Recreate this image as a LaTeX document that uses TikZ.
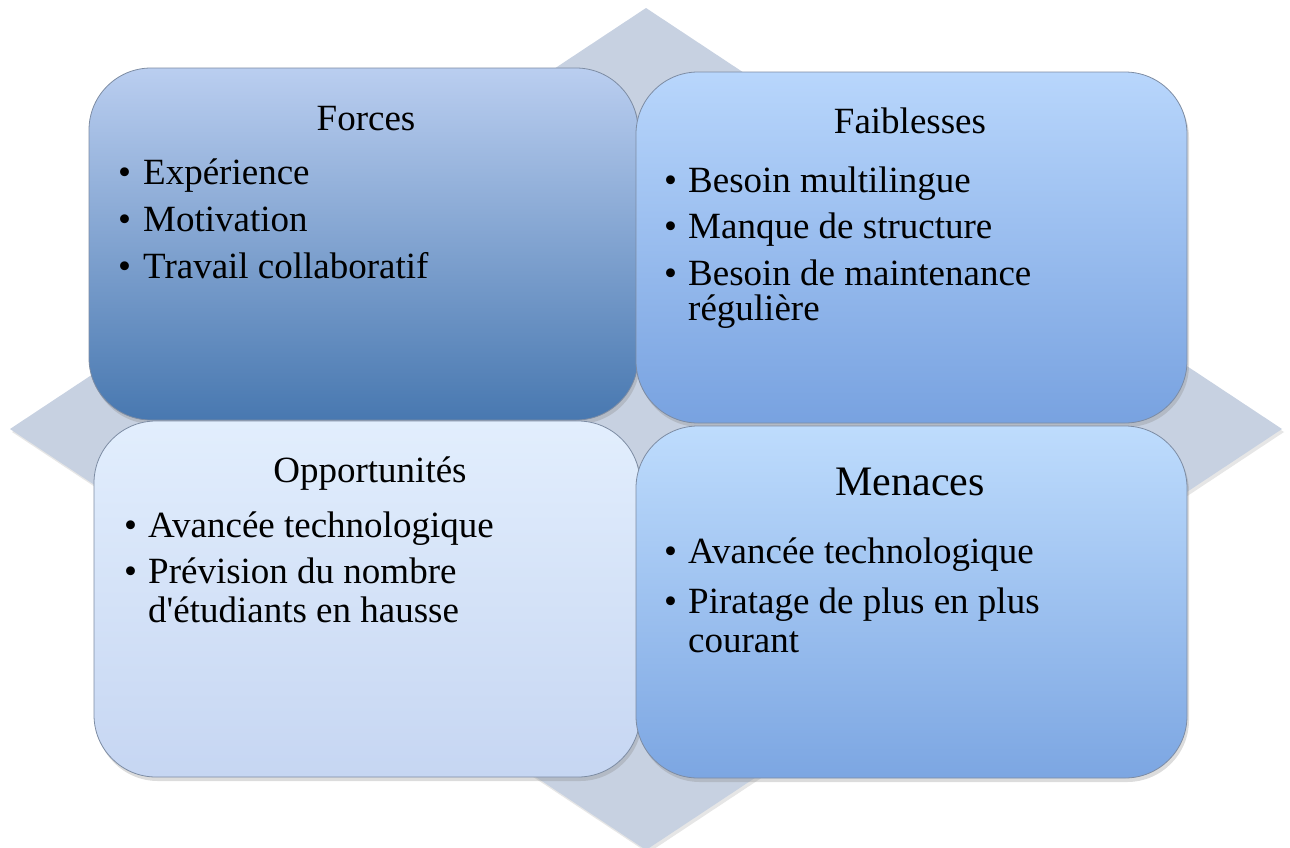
\documentclass[tikz,border=0pt]{standalone}
\usepackage{fontspec}
\setmainfont{Liberation Serif}
\usetikzlibrary{shadows}
\definecolor{diamondfill}{HTML}{C7D1E1}
\definecolor{edgegray}{HTML}{7D8CA3}
\definecolor{forcesTop}{HTML}{BACEF0}
\definecolor{forcesBot}{HTML}{4878B0}
\definecolor{faibTop}{HTML}{B8D6FC}
\definecolor{faibBot}{HTML}{78A2E0}
\definecolor{oppTop}{HTML}{E2EEFD}
\definecolor{oppBot}{HTML}{C6D6F2}
\definecolor{menTop}{HTML}{BEDCFD}
\definecolor{menBot}{HTML}{7CA6E2}
\begin{document}
\begin{tikzpicture}[x=1pt,y=-1pt,
  quad/.style={rectangle, rounded corners=62pt, draw=edgegray, line width=0.8pt, inner sep=0pt,
    drop shadow={opacity=0.28, shadow xshift=2pt, shadow yshift=-4pt}},
  head/.style={anchor=base, inner sep=0pt, font=\fontsize{37}{44}\selectfont},
  bighead/.style={anchor=base, inner sep=0pt, font=\fontsize{42}{50}\selectfont},
  dot/.style={anchor=base west, inner sep=0pt, font=\fontsize{37}{44}\selectfont},
  entry/.style={anchor=base west, inner sep=0pt, font=\fontsize{37}{44}\selectfont}]

% canvas
\useasboundingbox (0,0) rectangle (1290,847);

% background diamond
\fill[diamondfill, drop shadow={opacity=0.2, shadow xshift=2pt, shadow yshift=-3pt}]
  (646,8) -- (1282,429) -- (646,850) -- (10,429) -- cycle;

% the four quadrants
\node[quad, top color=forcesTop, bottom color=forcesBot,
  minimum width=549pt, minimum height=352pt] (forces) at (363.5,244) {};
\node[quad, top color=faibTop, bottom color=faibBot,
  minimum width=551pt, minimum height=351pt] (faiblesses) at (911.5,247.5) {};
\node[quad, top color=oppTop, bottom color=oppBot,
  minimum width=546pt, minimum height=356pt] (opportunites) at (367,599) {};
\node[quad, top color=menTop, bottom color=menBot,
  minimum width=551pt, minimum height=352pt] (menaces) at (911.5,602) {};

% Forces
\node[head] (forcesT) at (366,130) {Forces};
\node[dot] (fb1) at (118,184) {\textbullet};
\node[entry] (f1) at (143,184) {Expérience};
\node[dot] (fb2) at (118,231) {\textbullet};
\node[entry] (f2) at (143,231) {Motivation};
\node[dot] (fb3) at (118,278) {\textbullet};
\node[entry] (f3) at (143,278) {Travail collaboratif};

% Faiblesses
\node[head] (faibT) at (910,133) {Faiblesses};
\node[dot] (wb1) at (664,192) {\textbullet};
\node[entry] (w1) at (688,192) {Besoin multilingue};
\node[dot] (wb2) at (664,238) {\textbullet};
\node[entry] (w2) at (688,238) {Manque de structure};
\node[dot] (wb3) at (664,285) {\textbullet};
\node[entry] (w3) at (688,285) {Besoin de maintenance};
\node[entry] (w3b) at (688,320) {régulière};

% Opportunités
\node[head] (oppT) at (370,482) {Opportunités};
\node[dot] (ob1) at (124,537) {\textbullet};
\node[entry] (o1) at (148,537) {Avancée technologique};
\node[dot] (ob2) at (124,583) {\textbullet};
\node[entry] (o2) at (148,583) {Prévision du nombre};
\node[entry] (o2b) at (148,622) {d\textquotesingle étudiants en hausse};

% Menaces
\node[bighead] (menT) at (910,495) {Menaces};
\node[dot] (mb1) at (664,563) {\textbullet};
\node[entry] (m1) at (688,563) {Avancée technologique};
\node[dot] (mb2) at (664,613) {\textbullet};
\node[entry] (m2) at (688,613) {Piratage de plus en plus};
\node[entry] (m2b) at (688,652) {courant};
\end{tikzpicture}
\end{document}
